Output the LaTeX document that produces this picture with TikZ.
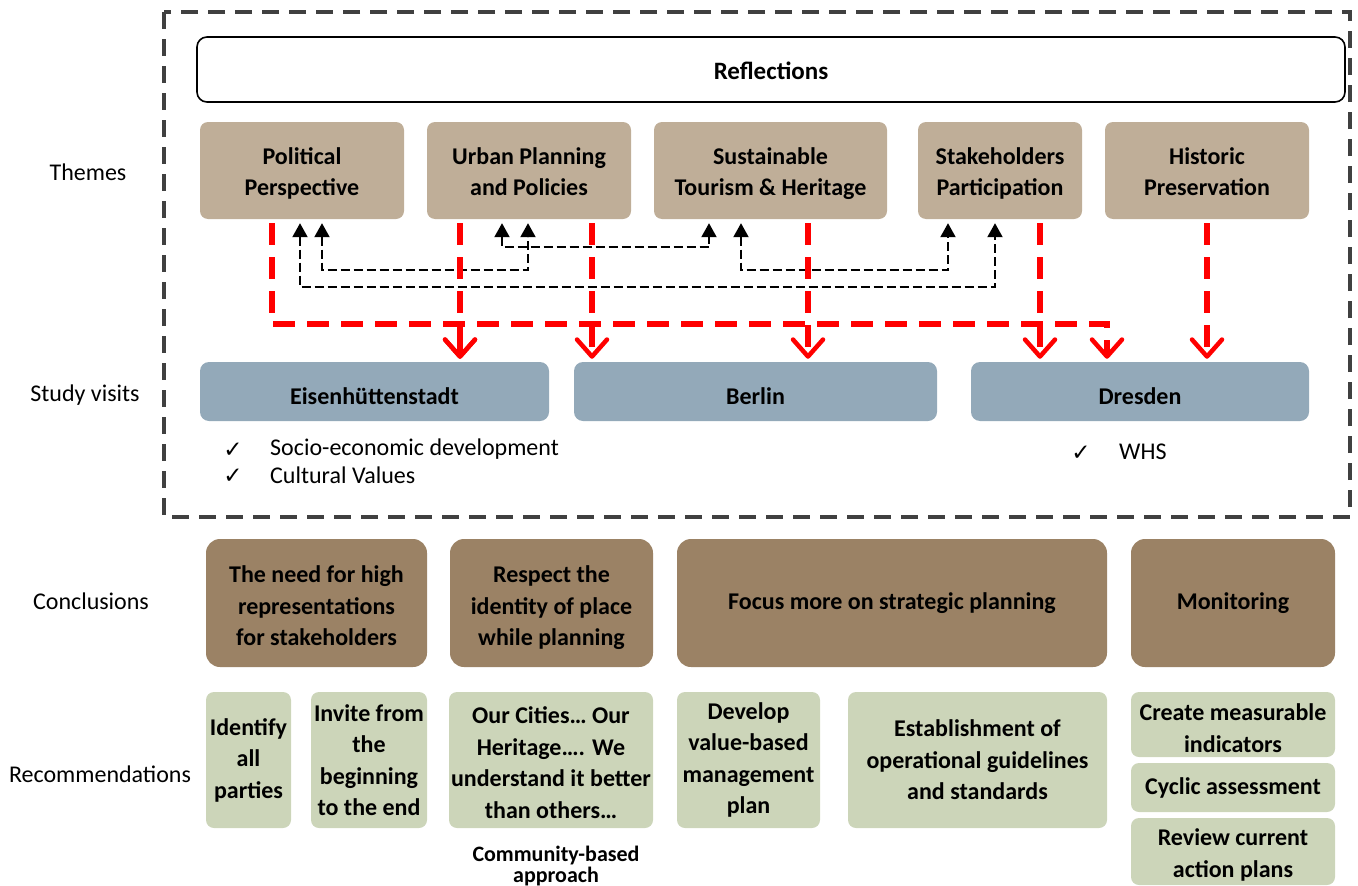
\documentclass[tikz,border=0pt]{standalone}
\usepackage{fontspec}
\setmainfont{Carlito}
\newfontfamily\djv{DejaVu Sans}
\usetikzlibrary{arrows.meta}
\definecolor{themecol}{HTML}{BFAE98}
\definecolor{visitcol}{HTML}{93A9B9}
\definecolor{conccol}{HTML}{9B8265}
\definecolor{reccol}{HTML}{CCD5B9}
\definecolor{outercol}{HTML}{404040}
\newcommand{\lowr}[1]{\rule{0pt}{#1}}
\newcommand{\dpt}{\rule[-6pt]{0pt}{6pt}}
\tikzset{
  boldtxt/.style={font=\fontsize{24}{31.5}\selectfont\bfseries, align=center, inner sep=0pt},
  themebox/.style={boldtxt, fill=themecol, rounded corners=8pt, minimum height=97pt},
  visitbox/.style={boldtxt, fill=visitcol, rounded corners=9pt, minimum height=59pt},
  concbox/.style={boldtxt, fill=conccol, rounded corners=14pt, minimum height=128pt},
  recbox/.style={boldtxt, fill=reccol, rounded corners=8pt},
  sidelabel/.style={font=\fontsize{24}{29}\selectfont, inner sep=0pt},
  checkitem/.style={font=\fontsize{24}{26}\selectfont, inner sep=0pt, anchor=west},
  checkmark/.style={font=\djv\fontsize{23}{24}\selectfont, inner sep=0pt},
  redarrow/.style={draw=red, line width=5.5pt, dash pattern=on 22pt off 12pt,
    -{Straight Barb[length=17pt,width=30pt,line width=4.5pt,round]}},
  blackarrow/.style={draw=black, line width=2pt, dash pattern=on 9pt off 4pt,
    {Triangle[length=14pt,width=15pt]}-{Triangle[length=14pt,width=15pt]}},
  outerdash/.style={draw=outercol, line width=4.5pt, dash pattern=on 17pt off 10pt}
}
\begin{document}
\begin{tikzpicture}[x=1pt,y=-1pt]
\useasboundingbox (0,0) rectangle (1358,886);
% outer dashed frame
\draw[outerdash] (164,12) rectangle (1350,517);
% reflections
\node[boldtxt, font=\fontsize{25}{30}\selectfont\bfseries, draw=black, line width=1.6pt, fill=white,
  rounded corners=10pt, minimum width=1148pt, minimum height=65pt] (refl) at (771,69.5) {\lowr{21pt}Reflections};
% side labels
\node[sidelabel] (lthemes) at (88,172) {Themes};
\node[sidelabel] (lvisits) at (85,395) {Study visits};
\node[sidelabel] (lconc) at (91,601) {Conclusions};
\node[sidelabel] (lrec) at (100,774) {Recommendations};
% themes
\node[themebox, minimum width=204pt] (t1) at (302,170.5) {\lowr{25pt}Political\\Perspective\dpt};
\node[themebox, minimum width=204pt] (t2) at (529,170.5) {\lowr{25pt}Urban Planning\\and Policies\dpt};
\node[themebox, minimum width=233pt] (t3) at (770.5,170.5) {\lowr{25pt}Sustainable\\Tourism \& Heritage\dpt};
\node[themebox, minimum width=164pt] (t4) at (1000,170.5) {\lowr{25pt}Stakeholders\\Participation\dpt};
\node[themebox, minimum width=204pt] (t5) at (1207,170.5) {\lowr{25pt}Historic\\Preservation\dpt};
% study visits
\node[visitbox, minimum width=349pt] (s1) at (374.5,391.5) {\lowr{27pt}Eisenhüttenstadt};
\node[visitbox, minimum width=363pt] (s2) at (755.5,391.5) {\lowr{27pt}Berlin};
\node[visitbox, minimum width=338pt] (s3) at (1140,391.5) {\lowr{27pt}Dresden};
% check items
\node[checkmark] (ck1) at (233,450) {✓};
\node[checkitem] (ci1) at (270,449) {Socio-economic development};
\node[checkmark] (ck2) at (233,476) {✓};
\node[checkitem] (ci2) at (270,475) {Cultural Values};
\node[checkmark] (ck3) at (1081,453) {✓};
\node[checkitem] (ci3) at (1119,452) {WHS};
% black dashed connectors between themes
\draw[blackarrow] ([xshift=20pt,yshift=-4pt]t1.south) -- ++(0,47) -| ([xshift=-1pt,yshift=-4pt]t2.south);
\draw[blackarrow] ([xshift=-27pt,yshift=-4pt]t2.south) -- ++(0,24) -| ([xshift=-61.5pt,yshift=-4pt]t3.south);
\draw[blackarrow] ([xshift=-2pt,yshift=-4pt]t1.south) -- ++(0,64) -| ([xshift=-5pt,yshift=-4pt]t4.south);
\draw[blackarrow] ([xshift=-29.5pt,yshift=-4pt]t3.south) -- ++(0,47) -| ([xshift=-52pt,yshift=-4pt]t4.south);
% red dashed arrows themes -> study visits
\draw[redarrow] ([xshift=-30pt,yshift=-4pt]t1.south) -- ++(0,101) -| ([xshift=-33pt,yshift=3pt]s3.north);
\draw[redarrow] ([xshift=-30pt,yshift=-4pt]t1.south) -- ++(0,101) -| ([xshift=85.5pt,yshift=3pt]s1.north);
\draw[redarrow] ([xshift=-69pt,yshift=-4pt]t2.south) -- ([xshift=85.5pt,yshift=3pt]s1.north);
\draw[redarrow] ([xshift=63pt,yshift=-4pt]t2.south) -- ([xshift=-163.5pt,yshift=3pt]s2.north);
\draw[redarrow] ([xshift=37.5pt,yshift=-4pt]t3.south) -- ([xshift=52.5pt,yshift=3pt]s2.north);
\draw[redarrow] ([xshift=40pt,yshift=-4pt]t4.south) -- ([xshift=-100pt,yshift=3pt]s3.north);
\draw[redarrow] ([yshift=-4pt]t5.south) -- ([xshift=67pt,yshift=3pt]s3.north);
% conclusions
\node[concbox, minimum width=221pt] (c1) at (316.5,603) {\lowr{28pt}The need for high\\representations\\for stakeholders\dpt};
\node[concbox, minimum width=203pt] (c2) at (551.5,603) {\lowr{28pt}Respect the\\identity of place\\while planning\dpt};
\node[concbox, minimum width=430pt] (c3) at (892,603) {Focus more on strategic planning};
\node[concbox, minimum width=204pt] (c4) at (1233,603) {Monitoring};
% recommendations
\node[recbox, minimum width=85pt, minimum height=136pt] (r1) at (248.5,760) {Identify\\all\\parties};
\node[recbox, minimum width=116pt, minimum height=136pt] (r2) at (369,760) {Invite from\\the\\beginning\\to the end};
\node[recbox, minimum width=204pt, minimum height=136pt] (r3) at (551,760) {\lowr{22pt}Our Cities… Our\\Heritage…. We\\understand it better\\than others…};
\node[recbox, minimum width=143pt, minimum height=136pt] (r4) at (748.5,760) {Develop\\value-based\\management\\plan};
\node[recbox, minimum width=259pt, minimum height=136pt] (r5) at (977.5,760) {Establishment of\\operational guidelines\\and standards};
\node[recbox, minimum width=204pt, minimum height=65pt] (r6) at (1233,724.5) {\lowr{24pt}Create measurable\\indicators};
\node[recbox, minimum width=204pt, minimum height=49pt] (r7) at (1233,787.5) {Cyclic assessment};
\node[recbox, minimum width=204pt, minimum height=67pt] (r8) at (1233,851.5) {\lowr{24pt}Review current\\action plans};
\node[boldtxt, font=\fontsize{22}{21}\selectfont\bfseries] (cba) at (556,862) {\lowr{23pt}Community-based\\approach};
\end{tikzpicture}
\end{document}
